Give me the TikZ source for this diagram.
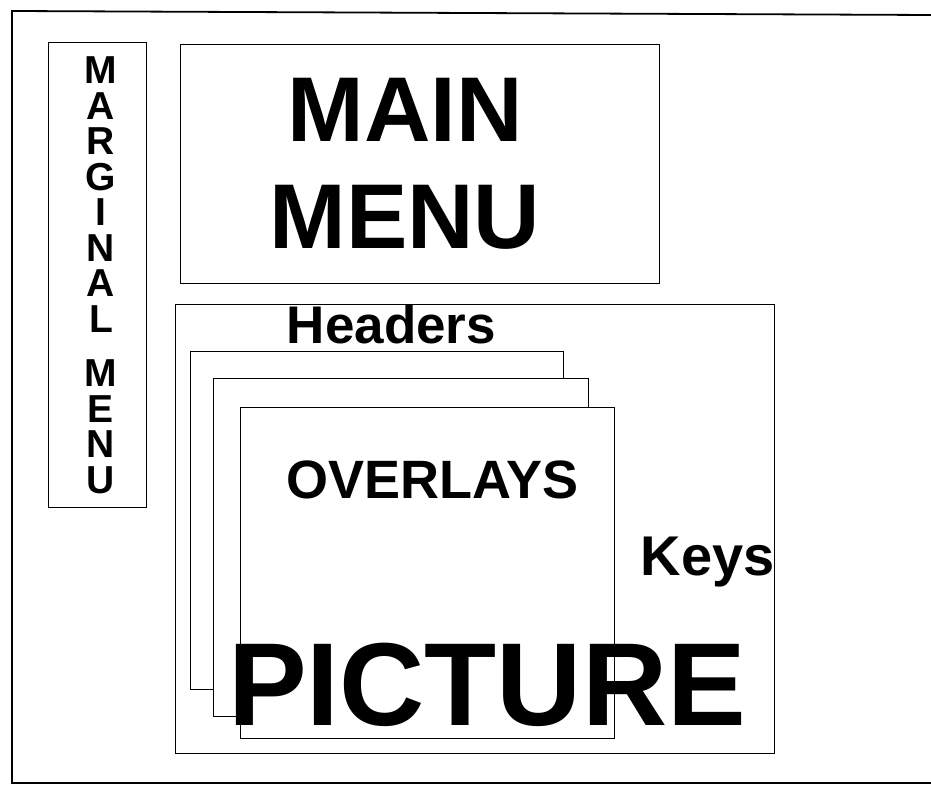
\documentclass[tikz,border=0pt]{standalone}
\usepackage{fontspec}
\setmainfont{Liberation Sans}
\begin{document}
\begin{tikzpicture}[x=0.5pt, y=-0.5pt, line width=0.5pt,
    box/.style={draw, line width=0.5pt},
    page/.style={draw, fill=white, line width=0.5pt},
    word/.style={inner sep=0pt, anchor=base}]
  \useasboundingbox (0,0) rectangle (931,786);
  % outer frame, open to the right
  \draw[line width=0.9pt] (931,15) -- (12,11) -- (12,783) -- (931,783);
  \draw[box] (48,43) rectangle (146,507);
  \draw[box] (180,45) rectangle (659,283);
  \draw[box] (175,304) rectangle (774,753);
  % stacked overlays
  \draw[page] (190,351) rectangle (563,689);
  \draw[page] (213,378) rectangle (588,716);
  \draw[page] (240,407) rectangle (614,738);
  \node[inner sep=0pt, align=center, font=\bfseries\fontsize{19.5}{17.75}\selectfont] (marginal) at (101,275.5)
    {M\\A\\R\\G\\I\\N\\A\\L\\[9.5pt]M\\E\\N\\U};
  \node[inner sep=0pt, align=center, font=\bfseries\fontsize{46}{53.5}\selectfont] (mainmenu) at (405,163.5) {MAIN\\MENU};
  \node[word, font=\bfseries\fontsize{26.5}{30}\selectfont] (headers) at (391.5,343) {Headers};
  \node[word, font=\bfseries\fontsize{27}{30}\selectfont] (overlays) at (432.5,498) {OVERLAYS};
  \node[word, font=\bfseries\fontsize{28}{30}\selectfont] (keys) at (707.5,575) {Keys};
  \node[word, font=\bfseries\fontsize{59}{60}\selectfont] (picture) at (487,725) {PICTURE};
\end{tikzpicture}
\end{document}
